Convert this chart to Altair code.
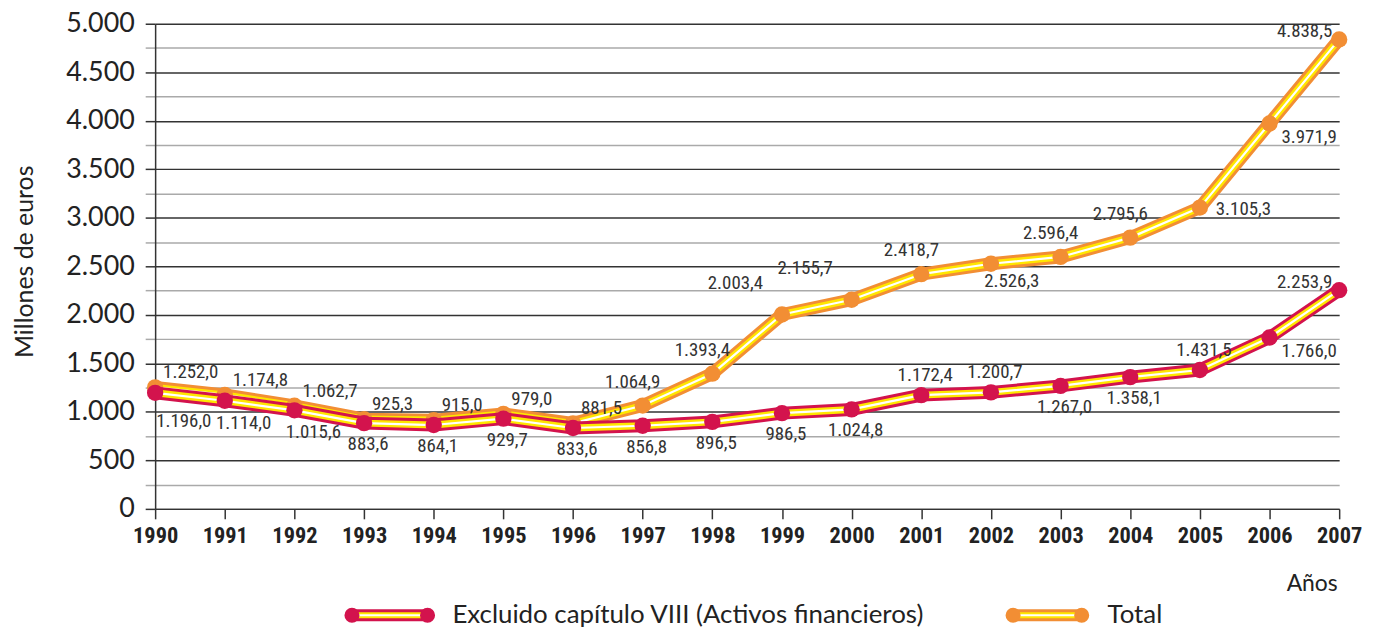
import altair as alt
import pandas as pd

# ---------------- data ----------------
anios = list(range(1990, 2008))
excluido = [1196.0, 1114.0, 1015.6, 883.6, 864.1, 929.7, 833.6, 856.8, 896.5,
            986.5, 1024.8, 1172.4, 1200.7, 1267.0, 1358.1, 1431.5, 1766.0, 2253.9]
total = [1252.0, 1174.8, 1062.7, 925.3, 915.0, 979.0, 881.5, 1064.9, 1393.4,
         2003.4, 2155.7, 2418.7, 2526.3, 2596.4, 2795.6, 3105.3, 3971.9, 4838.5]
series_names = ["Excluido capítulo VIII (Activos financieros)", "Total"]
y_ticks = list(range(0, 5001, 250))

# where each value label sits relative to its point (named placements)
pos_excluido = ["abajo_inicio", "abajo_d", "abajo_d", "abajo", "abajo", "abajo",
                "abajo", "abajo", "abajo", "abajo", "abajo", "encima", "encima",
                "abajo", "abajo", "encima", "abajo_der", "izq"]
pos_total = ["arriba_der", "arriba_der", "arriba_der", "arriba_der", "arriba_der",
             "arriba_der", "arriba_der", "arriba", "arriba", "arriba_izq", "arriba_izq",
             "arriba", "abajo_desp", "arriba", "arriba", "derecha", "abajo_der", "izq"]

# ---------------- styles ----------------
COLORS = {series_names[0]: "#D3134D", series_names[1]: "#F28E34"}
YELLOW = "#FFE600"
PLACEMENTS = {  # align, dx, dy
    "arriba_der": ("left", 8, -15),
    "arriba": ("center", -10, -24),
    "arriba_izq": ("right", -19, -32),
    "abajo": ("center", 4, 21),
    "abajo_d": ("center", 19, 22),
    "abajo_inicio": ("left", 1, 28),
    "abajo_der": ("left", 12, 14),
    "abajo_desp": ("center", 21, 17),
    "encima": ("center", 4, -20),
    "derecha": ("left", 16, 1),
    "izq": ("right", -7, -8),
}
NARROW = ("Noto Sans ExtraCondensed, Noto Sans Condensed, Roboto Condensed, "
          "Open Sans Condensed, Liberation Sans Narrow, DejaVu Sans Condensed, sans-serif")
SANS = "Lato, Open Sans, sans-serif"
W, H = 1191, 488


def fmt_es(v):
    s = f"{v:,.1f}"
    return s.replace(",", "#").replace(".", ",").replace("#", ".")


rows = []
for name, vals, poss in [(series_names[0], excluido, pos_excluido),
                         (series_names[1], total, pos_total)]:
    for a, v, p in zip(anios, vals, poss):
        rows.append({"anio": a, "valor": v, "serie": name,
                     "etiqueta": fmt_es(v), "pos": p})
df = pd.DataFrame(rows)

x_axis = alt.Axis(values=anios, format="d", title="Años", grid=False,
                  labelFont=NARROW, labelFontSize=22.5, labelFontWeight="bold",
                  labelColor="#222", labelPadding=6, labelFlush=False,
                  tickSize=10, tickColor="#333", tickWidth=1.5,
                  domainColor="#333", domainWidth=1.5,
                  titleFont=SANS, titleFontSize=23, titleFontWeight="normal",
                  titleColor="#222", titleAnchor="end", titleAlign="right",
                  titleBaseline="alphabetic", titleX=W - 2, titleY=82)
y_axis = alt.Axis(values=y_ticks,
                  labelExpr="datum.value % 500 === 0 ? replace(format(datum.value, ','), ',', '.') : ''",
                  title="Millones de euros",
                  labelFont=SANS, labelFontSize=27, labelColor="#222", labelPadding=11,
                  tickSize=10, tickWidth=1.5,
                  tickColor={"condition": {"test": "datum.value % 500 === 0", "value": "#333"}, "value": "#aaa"},
                  gridColor={"condition": {"test": "datum.value % 500 === 0", "value": "#333"}, "value": "#aaa"},
                  gridWidth=1.5, gridOpacity=1,
                  domainColor="#333", domainWidth=1.5,
                  titleFont=SANS, titleFontSize=25, titleFontWeight="normal", titleColor="#222",
                  titleAngle=-90, titleAlign="center", titleBaseline="alphabetic",
                  titleX=-123, titleY=239)

X = alt.X("anio:Q", scale=alt.Scale(domain=[1990, 2007], nice=False, zero=False), axis=x_axis)
Y = alt.Y("valor:Q", scale=alt.Scale(domain=[0, 5000], nice=False), axis=y_axis)

layers = []
for name in [series_names[1], series_names[0]]:
    base = alt.Chart(df).transform_filter(alt.datum.serie == name)
    c = COLORS[name]
    layers.append(base.mark_line(color=c, strokeWidth=13, strokeJoin="round").encode(x=X, y=Y))
    layers.append(base.mark_line(color=YELLOW, strokeWidth=7, strokeJoin="round").encode(x=X, y=Y))
    layers.append(base.mark_line(color="white", strokeWidth=2.2, strokeJoin="round").encode(x=X, y=Y))
    layers.append(base.mark_point(filled=True, color=c, opacity=1, size=270).encode(x=X, y=Y))

for pname, (al, dx, dy) in PLACEMENTS.items():
    layers.append(
        alt.Chart(df).transform_filter(alt.datum.pos == pname)
        .mark_text(align=al, baseline="middle", dx=dx, dy=dy, font=NARROW,
                   fontSize=19, color="#333")
        .encode(x=X, y=Y, text="etiqueta:N")
    )

# ---------------- legend (bottom) ----------------
leg_y = 595
leg_items = [(series_names[0], 198, 274, 299), (series_names[1], 863, 932, 958)]
for name, xa, xb, xt in leg_items:
    ld = alt.Chart(pd.DataFrame({"serie": [name]}))
    c = COLORS[name]
    layers.append(ld.mark_rule(color=c, strokeWidth=12).encode(
        x=alt.value(xa), x2=alt.value(xb), y=alt.value(leg_y)))
    layers.append(ld.mark_rule(color=YELLOW, strokeWidth=6).encode(
        x=alt.value(xa), x2=alt.value(xb), y=alt.value(leg_y)))
    layers.append(ld.mark_rule(color="white", strokeWidth=2).encode(
        x=alt.value(xa), x2=alt.value(xb), y=alt.value(leg_y)))
    for xp in (xa, xb):
        layers.append(ld.mark_point(filled=True, color=c, opacity=1, size=230).encode(
            x=alt.value(xp), y=alt.value(leg_y)))
    layers.append(ld.mark_text(align="left", baseline="middle", font=SANS, fontSize=26,
                               color="#222").encode(
        x=alt.value(xt), y=alt.value(leg_y), text="serie:N"))

chart = alt.layer(*layers).properties(
    width=W, height=H,
    autosize=alt.AutoSizeParams(type="none"),
    padding={"left": 148, "top": 14, "right": 29, "bottom": 118},
    background="white",
).configure_view(stroke=None)

chart.save("out.html", embed_options={"renderer": "svg", "actions": False})
